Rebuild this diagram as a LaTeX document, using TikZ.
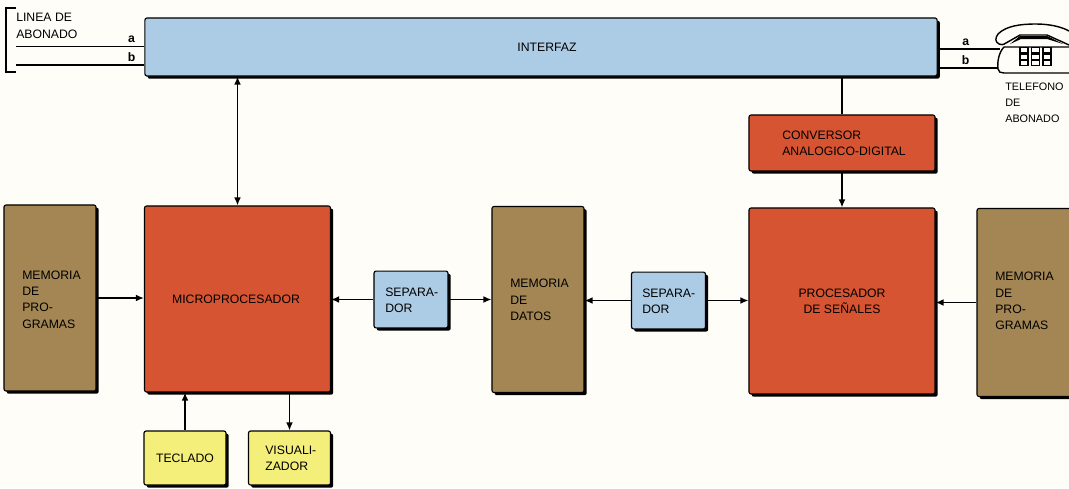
\documentclass[tikz,border=0pt]{standalone}
\usepackage{fontspec}
\setmainfont{Liberation Sans}
\usepackage{tikz}
\usetikzlibrary{arrows.meta, positioning, shadows, calc}

\definecolor{azulbox}{RGB}{172,203,228}
\definecolor{rojobox}{RGB}{214,84,50}
\definecolor{pardobox}{RGB}{164,134,84}
\definecolor{amarillobox}{RGB}{244,238,122}
\definecolor{papel}{RGB}{254,253,247}

\begin{document}
\begin{tikzpicture}[x=0.025cm, y=-0.025cm, font=\fontsize{8.7}{11.6}\selectfont,
  bloque/.style={draw=black, line width=0.8pt, rounded corners=1.5pt, inner sep=0pt, drop shadow={shadow xshift=1.9pt, shadow yshift=-1.9pt, opacity=1, fill=black}},
  azul/.style={bloque, fill=azulbox},
  rojo/.style={bloque, fill=rojobox},
  pardo/.style={bloque, fill=pardobox},
  amarillo/.style={bloque, fill=amarillobox},
  flecha/.style={line width=1pt, -{Latex[length=2mm, width=1.7mm]}},
  dobleflecha/.style={line width=1pt, {Latex[length=2mm, width=1.7mm]}-{Latex[length=2mm, width=1.7mm]}},
  linea/.style={line width=1pt},
  letra/.style={above=1pt, inner sep=1pt, font=\fontsize{8.7}{10}\bfseries\selectfont},
  rotulo/.style={align=left, inner sep=0pt}]
\fill[papel] (0,0) rectangle (1069,488);
\useasboundingbox (0,0) rectangle (1069,488);
% bloques
\node[azul, minimum width=19.8cm, minimum height=1.45cm] (interfaz) at (541,47){};
\node[rojo, minimum width=4.65cm, minimum height=1.4cm] (conversor) at (842,143){};
\node[rojo, minimum width=4.65cm, minimum height=4.65cm] (micro) at (237.5,299){};
\node[rojo, minimum width=4.65cm, minimum height=4.65cm] (procesador) at (842,301){};
\node[pardo, minimum width=2.3cm, minimum height=4.65cm] (memizq) at (50,298){};
\node[pardo, minimum width=2.3cm, minimum height=4.65cm] (memdatos) at (538,299.5){};
\node[pardo, minimum width=2.4cm, minimum height=4.7cm] (memder) at (1025,302.5){};
\node[azul, minimum width=1.85cm, minimum height=1.42cm] (sep1) at (411,299.5){};
\node[azul, minimum width=1.85cm, minimum height=1.42cm] (sep2) at (668.5,300.5){};
\node[amarillo, minimum width=2.05cm, minimum height=1.35cm] (teclado) at (185,458){};
\node[amarillo, minimum width=2.05cm, minimum height=1.35cm] (visual) at (289.5,458){};
% textos
\node[rotulo] (tinterfaz) at (547,47){INTERFAZ};
\node[rotulo, right] (tconversor) at (782,143){CONVERSOR\\ANALOGICO-DIGITAL};
\node[rotulo] (tmicro) at (236,299){MICROPROCESADOR};
\node[rotulo, align=center] (tprocesador) at (842,301){PROCESADOR\\DE SEÑALES};
\node[rotulo, right] (tmemizq) at (22,299.5){MEMORIA\\DE\\PRO-\\GRAMAS};
\node[rotulo, right] (tmemdatos) at (510,300){MEMORIA\\DE\\DATOS};
\node[rotulo, right] (tmemder) at (995,301){MEMORIA\\DE\\PRO-\\GRAMAS};
\node[rotulo, right] (tsep1) at (385,300){SEPARA-\\DOR};
\node[rotulo, right] (tsep2) at (642,301){SEPARA-\\DOR};
\node[rotulo] (tteclado) at (185,458){TECLADO};
\node[rotulo, right] (tvisual) at (265,458){VISUALI-\\ZADOR};
\node[rotulo, right] (tlinea) at (16,26){LINEA DE\\ABONADO};
\node[rotulo, right, font=\fontsize{7.7}{11.4}\selectfont] (ttelefono) at (1005,103){TELEFONO\\DE\\ABONADO};
% conexiones
\draw[dobleflecha] (interfaz.south -| micro.north) -- (micro.north);
\draw[linea] (interfaz.south -| conversor.north) -- (conversor.north);
\draw[flecha] (conversor.south) -- (procesador.north);
\draw[flecha] (memizq.east) -- (memizq.east -| micro.west);
\draw[flecha] (sep1.west) -- (sep1.west -| micro.east);
\draw[flecha] (sep1.east) -- (sep1.east -| memdatos.west);
\draw[flecha] (sep2.west) -- (sep2.west -| memdatos.east);
\draw[flecha] (sep2.east) -- (sep2.east -| procesador.west);
\draw[flecha] (memder.west) -- (memder.west -| procesador.east);
\draw[flecha] (teclado.north) -- (teclado.north |- micro.south);
\draw[flecha] (visual.north |- micro.south) -- (visual.north);
% linea de abonado
\coordinate (lineaa) at (16,46.5);
\coordinate (lineab) at (16,65);
\coordinate (telefa) at (1000,49);
\coordinate (telefb) at (1000,68);
\draw[linea] (lineaa) -- (lineaa -| interfaz.west) node[pos=0.9, letra] (la) {a};
\draw[linea] (lineab) -- (lineab -| interfaz.west) node[pos=0.9, letra] (lb) {b};
\draw[linea] (16,8) -- (6,8) -- (6,72) -- (16,72);
\draw[linea] (telefa -| interfaz.east) -- (telefa) node[pos=0.45, letra] (ra) {a};
\draw[linea] (telefb -| interfaz.east) -- (telefb) node[pos=0.45, letra] (rb) {b};
% telefono
\draw[line width=1pt, fill=papel] (1069,47) -- (1004,47) .. controls (999,52) and (997,62) .. (998,69) .. controls (998,72) and (1001,73) .. (1004,73) -- (1069,73);
\draw[line width=1pt, fill=papel] (999,44) .. controls (995,42) and (995,38) .. (998,34) .. controls (1006,26) and (1020,24) .. (1036,24) .. controls (1050,24) and (1062,27) .. (1069,31) (1069,45) -- (1047,35) -- (1020,35) -- (1006,43) .. controls (1003,45) and (1001,45) .. (999,44);
\fill (1010,44) -- (1020,36) -- (1047,36) -- (1063,44) -- (1047,39) -- (1021,39) -- cycle;
\foreach \xk in {1020,1031.5,1043}{\foreach \yk in {47.5,54,60.5}{\draw[line width=0.8pt] (\xk,\yk) rectangle ++(8,5.2);}}
\end{tikzpicture}
\end{document}
